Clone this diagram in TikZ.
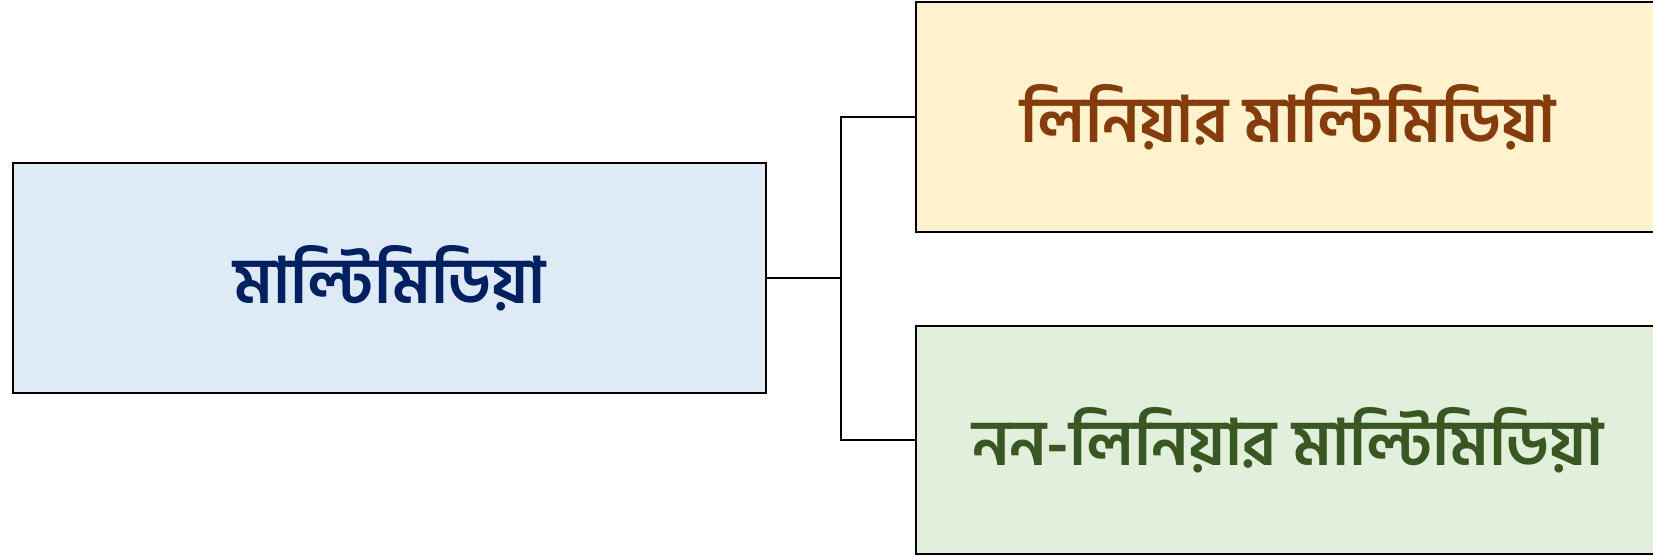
\documentclass[tikz,border=0pt]{standalone}
\usepackage{fontspec}
\newfontfamily\bnfont[Script=Bengali]{Hind Siliguri}
\usetikzlibrary{positioning}
\definecolor{mainfill}{HTML}{DEEAF6}
\definecolor{maintext}{HTML}{002060}
\definecolor{linfill}{HTML}{FFF2CC}
\definecolor{lintext}{HTML}{843C0C}
\definecolor{nonfill}{HTML}{E2EFDA}
\definecolor{nontext}{HTML}{385723}
\tikzset{
  box/.style={draw, line width=1.3pt, align=center, inner sep=0pt,
    font=\bnfont\bfseries\fontsize{32}{38}\selectfont},
  mainbox/.style={box, fill=mainfill, text=maintext, minimum width=376.5pt, minimum height=115pt},
  linbox/.style={box, fill=linfill, text=lintext, minimum width=372pt, minimum height=115pt},
  nonbox/.style={box, fill=nonfill, text=nontext, minimum width=372pt, minimum height=114pt},
  link/.style={line width=1.3pt},
}

\begin{document}
\begin{tikzpicture}[x=0.5pt, y=-0.5pt]
  \useasboundingbox (0,0) rectangle (1653,556);
  \clip (0,0) rectangle (1653,556);
  \node[mainbox] (main) at (389.5,278) {মাল্টিমিডিয়া};
  \node[linbox] (linear) at (1288,117) {লিনিয়ার মাল্টিমিডিয়া};
  \node[nonbox] (nonlinear) at (1288,440) {নন-লিনিয়ার মাল্টিমিডিয়া};
  \coordinate (fork) at (841,278);

  \draw[link] (main.east) -- (fork);
  \draw[link] (linear.west) -| (fork) |- (nonlinear.west);
\end{tikzpicture}
\end{document}
